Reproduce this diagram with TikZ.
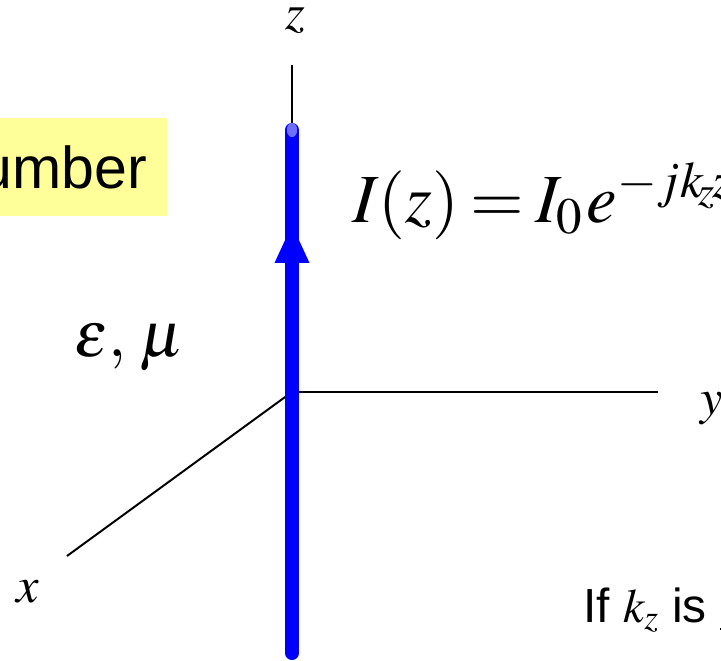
\documentclass[tikz,border=0pt]{standalone}
\usepackage{amsmath}
\usepackage{mathptmx}
\usepackage{fontspec}
\setmainfont{Liberation Serif}
\setsansfont{Liberation Sans}
\usepackage{tikz}
\usepackage{xcolor}
\usetikzlibrary{positioning, calc}
\definecolor{cWire}{RGB}{0,0,255}
\definecolor{cGlow}{RGB}{110,110,255}
\definecolor{cNote}{RGB}{255,255,153}
\tikzset{
	axis/.style     ={draw=black, line width=1.4pt},
	wire/.style     ={draw=cWire, line width=10pt, line cap=round},
	axislabel/.style={inner sep=0pt, font=\fontsize{36}{40}\selectfont},
	eqlabel/.style  ={inner sep=0pt, anchor=base west, font=\fontsize{49}{58}\selectfont},
	notebox/.style  ={fill=cNote, inner xsep=0.5cm, inner ysep=0pt, minimum height=2.45cm, font=\sffamily\fontsize{42}{48}\selectfont},
	remark/.style   ={inner sep=0pt, anchor=base west, font=\sffamily\fontsize{34}{38}\selectfont},
}

\begin{document}
\begin{tikzpicture}[x=0.025cm, y=-0.025cm]
	\useasboundingbox (0,0) rectangle (721,661);
	% axes
	\coordinate (O) at (292,392);
	\coordinate (zEnd) at (292,65);
	\coordinate (yEnd) at (658,392);
	\coordinate (xEnd) at (67,556);
	\draw[axis] (O) -- (zEnd);
	\draw[axis] (O) -- (yEnd);
	\draw[axis] (O) -- (xEnd);
	\node[axislabel] (zlab) at (295,21) {$z$};
	\node[axislabel, anchor=base west] (ylab) at (700,414) {$y$};
	\node[axislabel] (xlab) at (28,592) {$x$};
	% current line
	\coordinate (wireBot) at (292,653);
	\coordinate (wireTop) at (292,130);
	\coordinate (tip) at (292,225);
	\draw[wire] (wireBot) -- (wireTop);
	\fill[cGlow] (wireTop) ellipse (0.13cm and 0.18cm);
	\fill[cWire] (tip) -- ++(17.5,38) -- ++(-35,0) -- cycle;
	% texts
	\node[notebox, anchor=east] (note) at (167,167) {umber};
	\node[eqlabel] (eq) at (352,223) {$I(z)\mkern-1mu=\mkern-1mu I_0\mkern1mu e^{-jk_{\!z}\mkern-1mu z}$};
	\node[axislabel, anchor=base west, font=\fontsize{46}{52}\selectfont] (medium) at (74,357) {$\varepsilon,\,\mu$};
	\node[remark] (cond) at (583,622) {If $k_z$ is \underline{r}};
\end{tikzpicture}
\end{document}
